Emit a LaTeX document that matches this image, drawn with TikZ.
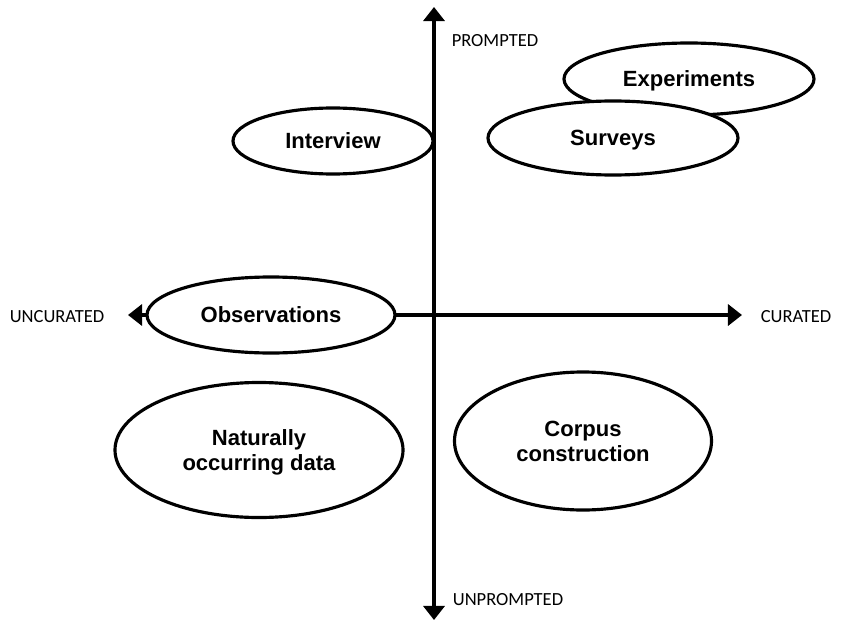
\documentclass[tikz,border=0pt]{standalone}
\usepackage{fontspec}
\setmainfont{Liberation Sans}
\newfontfamily\axisfont{Carlito}
\usetikzlibrary{arrows.meta, shapes.geometric}

\begin{document}
\begin{tikzpicture}[x=0.03cm, y=-0.03cm,
    axis/.style={line width=2.8pt, {Triangle[width=18pt, length=12pt]}-{Triangle[width=18pt, length=12pt]}},
    axislabel/.style={font=\axisfont\fontsize{15.8}{18}\selectfont},
    oval/.style={ellipse, draw, fill=white, line width=2.7pt, inner sep=0pt, align=center,
      text depth=0pt, font=\bfseries\fontsize{18.8}{21.5}\selectfont}]
    \useasboundingbox (0,0) rectangle (844,621);
    \coordinate (T) at (434,7);
    \coordinate (B) at (434,620);
    \coordinate (L) at (128,315);
    \coordinate (R) at (742,315);
    \draw[axis] (B) -- (T);
    \draw[axis] (L) -- (R);
    \node[axislabel] (prompted) at (495,41) {PROMPTED};
    \node[axislabel] (unprompted) at (508,600) {UNPROMPTED};
    \node[axislabel] (uncurated) at (57,317) {UNCURATED};
    \node[axislabel] (curated) at (796,317) {CURATED};
    \node[oval, minimum width=7.5cm, minimum height=2.16cm] (exp) at (689,79) {Experiments};
    \node[oval, minimum width=7.5cm, minimum height=2.22cm] (surv) at (613,138) {Surveys};
    \node[oval, minimum width=6cm, minimum height=1.98cm] (intv) at (333,141) {Interview};
    \node[oval, minimum width=7.44cm, minimum height=2.28cm] (obs) at (271,315) {Observations};
    \node[oval, minimum width=8.64cm, minimum height=4.05cm] (nat) at (259,450) {Naturally\\occurring data};
    \node[oval, minimum width=7.71cm, minimum height=4.14cm] (corp) at (583,441) {Corpus\\construction};
\end{tikzpicture}
\end{document}
